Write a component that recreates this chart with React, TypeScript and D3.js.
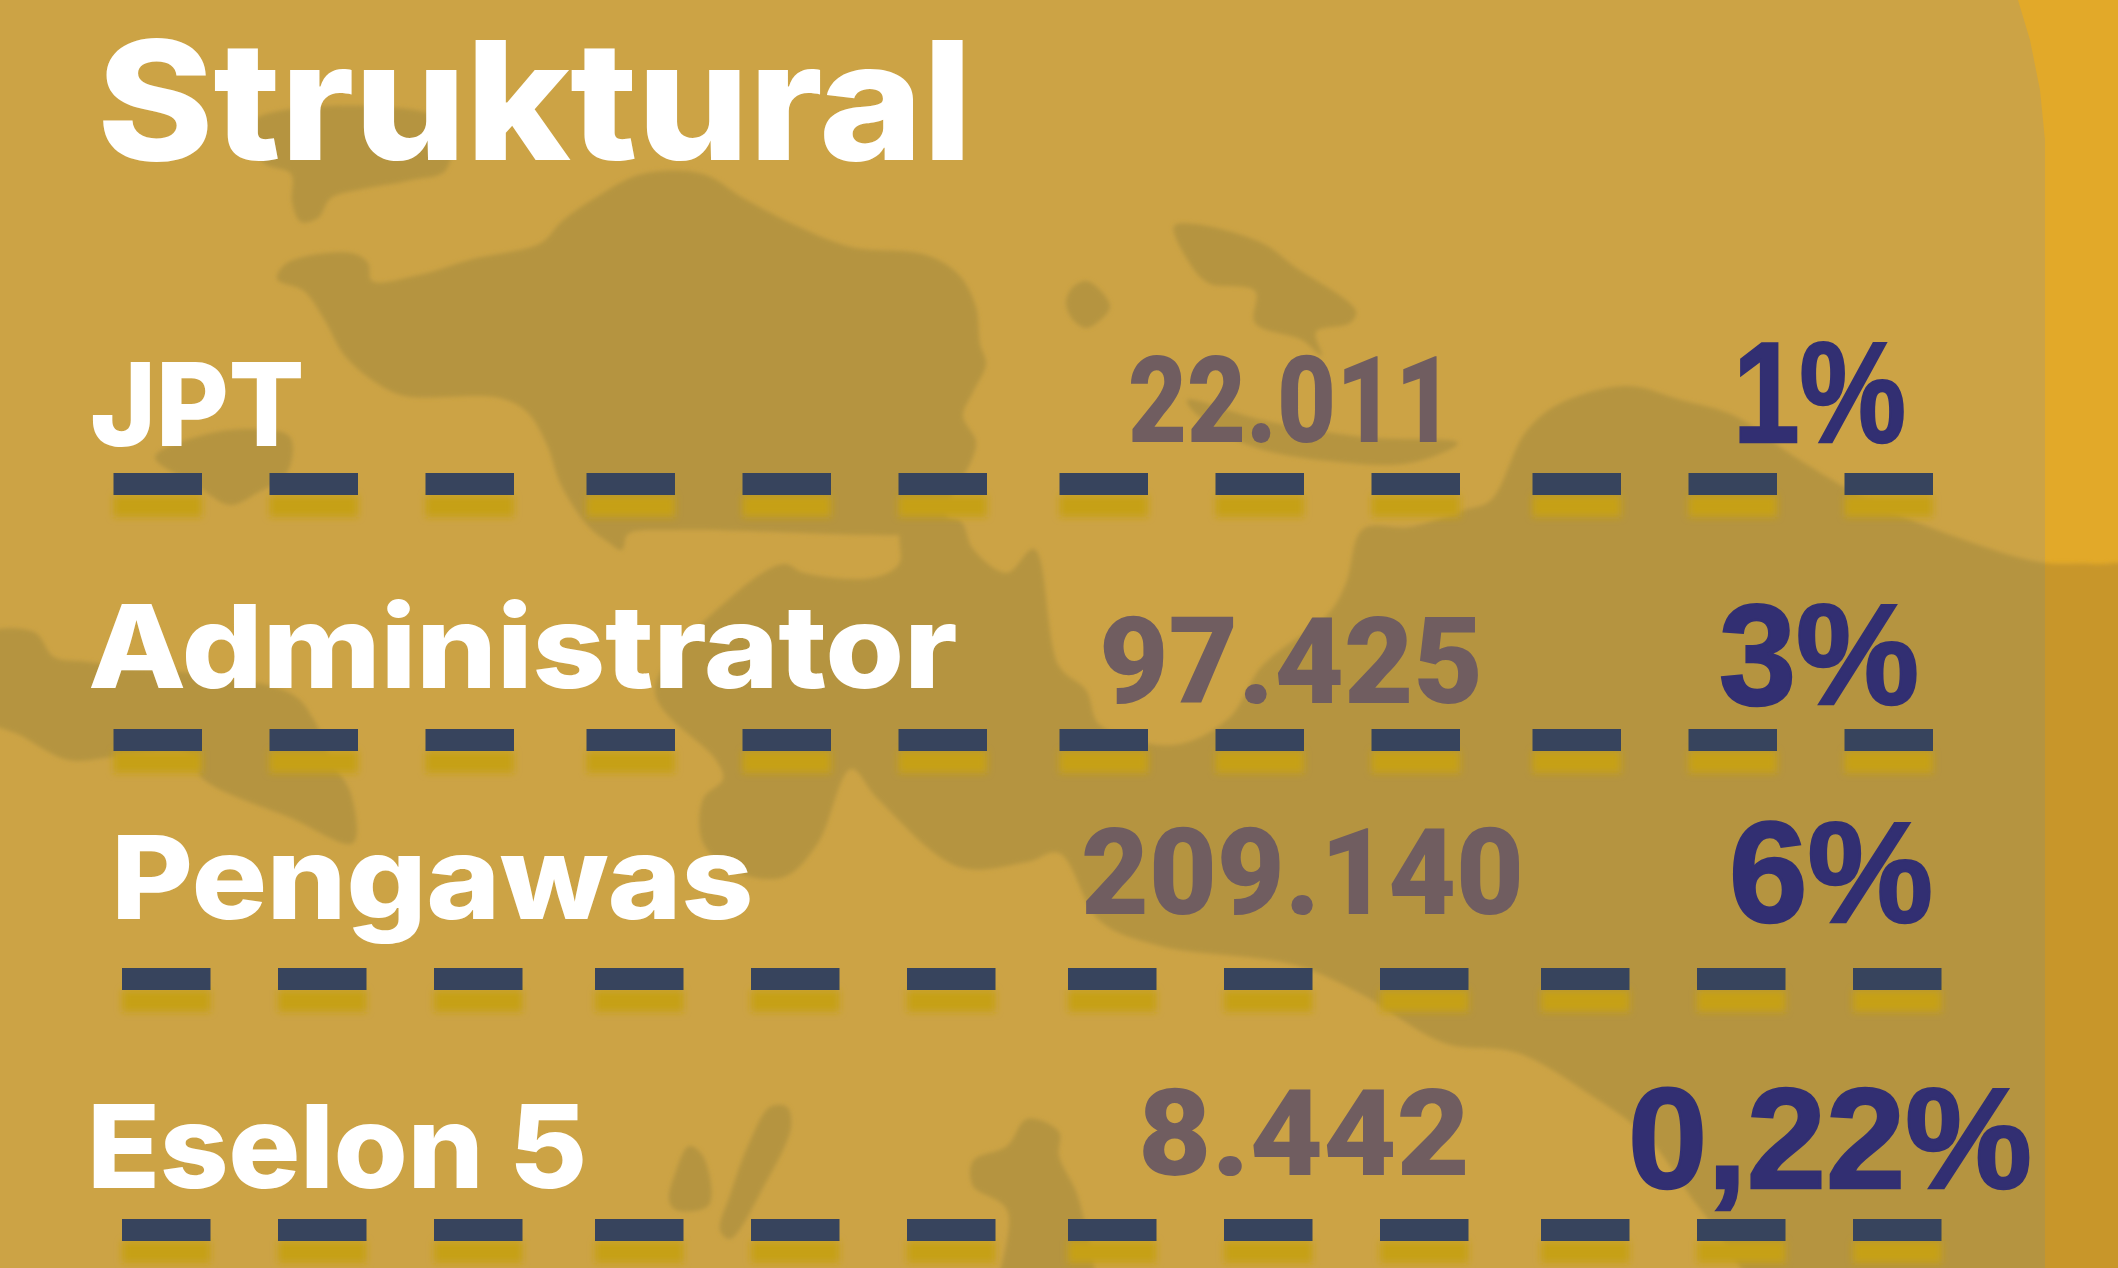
import React from 'react';
import * as d3 from 'd3';

const width = 2118;
const height = 1268;

// DATA ===========================================

const title = 'Struktural';
const categories = ['JPT', 'Administrator', 'Pengawas', 'Eselon 5'];
const counts = [22011, 97425, 209140, 8442];
const shares = [1, 3, 6, 0.22];

// Indonesian number style: 22.011 and 0,22%
const idLocale = d3.formatLocale({ decimal: ',', thousands: '.', grouping: [3], currency: ['Rp', ''] });
const formatCount = idLocale.format(',');
const formatShare = (v: number) => idLocale.format(Number.isInteger(v) ? 'd' : '.2f')(v) + '%';

// LAYOUT =========================================

const titleBox = { x: 97, width: 875, baseline: 160, size: 165 };

const labelX = [90, 88, 111, 87];
const labelWidth = [214, 869, 642, 500];
const labelBaseline = [446, 688, 919, 1188];
const labelSize = 116;

const countX = [1128, 1099, 1081, 1138];
const countWidth = [326, 384, 443, 332];
const countBaseline = [442, 703, 914, 1175];
const countSize = 120;

const shareX = [1733, 1719, 1729, 1628];
const shareWidth = [173, 200, 204, 404];
const shareBaseline = [442, 704, 922, 1188];
const shareSize = 142;

const dashY = [473, 729, 968, 1219];
const dashShift = [0, 0, 8.5, 8.5];
const dashWidth = 88.5;
const dashHeight = 22;
const shadowOffset = 22;
const dashCount = 12;

// dashes come in groups of three
const groupScale = d3.scaleLinear().domain([0, 3]).range([113.5, 1532.5]);
const stepScale = d3.scaleLinear().domain([0, 2]).range([0, 312]);
const dashX = (i: number) => groupScale(Math.floor(i / 3)) + stepScale(i % 3);

// BACKGROUND MAP =================================

type Pt = [number, number];

const panelEdge: Pt[] = [
  [-20, -20], [2014, -20], [2018, 0], [2030, 40], [2040, 90], [2045, 140],
  [2045, 1290], [-20, 1290],
];

const northIsland: Pt[] = [
  [253, 121], [446, 121], [446, 170], [412, 180], [358, 190], [331, 198],
  [318, 218], [301, 222], [292, 202], [291, 174], [263, 162],
];
const bigIsland: Pt[] = [
  [277, 279], [287, 263], [351, 253], [368, 263], [372, 281], [419, 275], [473, 259],
  [541, 243], [561, 222], [595, 198], [642, 174], [703, 174], [743, 198], [797, 226],
  [851, 247], [926, 255], [959, 275], [976, 307], [980, 344], [986, 364], [973, 392],
  [963, 416], [976, 441], [973, 457], [959, 485], [946, 513], [959, 530], [902, 535],
  [676, 530], [628, 534], [622, 550], [608, 542], [588, 526], [561, 485], [547, 445],
  [527, 412], [500, 398], [405, 396], [378, 384], [345, 356], [324, 319], [304, 291],
];
const smallIsland: Pt[] = [
  [155, 457], [203, 435], [250, 429], [290, 437], [287, 473], [257, 493], [230, 505], [196, 485],
];
const leftBand: Pt[] = [
  [-20, 637], [34, 632], [54, 657], [88, 662], [290, 693], [314, 720], [331, 760], [351, 794],
  [353, 843], [291, 818], [203, 779], [189, 755], [115, 757], [68, 760], [20, 735], [-20, 715],
];
const mainMass: Pt[] = [
  [1034, 549], [1059, 666], [1086, 690], [1100, 725], [1174, 745], [1229, 718], [1262, 666],
  [1329, 613], [1346, 583], [1363, 529], [1410, 527], [1464, 510], [1491, 500], [1525, 433],
  [1559, 404], [1627, 386], [1681, 400], [1735, 416], [1795, 457], [1870, 501], [1937, 530],
  [2039, 562], [2093, 564], [2160, 574], [2160, 1320], [1800, 1320], [1701, 1210], [1647, 1137],
  [1586, 1092], [1518, 1053], [1444, 1043], [1363, 995], [1295, 965], [1160, 946], [1100, 921],
  [1059, 853], [1027, 862], [959, 867], [878, 799], [851, 769], [818, 843], [784, 877],
  [736, 872], [703, 843], [703, 799], [723, 779], [716, 760], [655, 691], [736, 593],
  [784, 564], [804, 573], [872, 578], [899, 564], [902, 529], [959, 520], [973, 549], [1007, 573],
];
const eastIsland: Pt[] = [
  [1174, 226], [1194, 224], [1262, 243], [1295, 267], [1356, 311], [1350, 323], [1316, 332],
  [1322, 356], [1302, 340], [1255, 323], [1255, 291], [1208, 283], [1187, 259],
];
const dotIsland: Pt[] = [[1066, 303], [1072, 288], [1086, 281], [1100, 290], [1110, 307], [1098, 322], [1086, 328], [1073, 320]];
const midIsland: Pt[] = [
  [1187, 400], [1262, 420], [1363, 437], [1458, 443], [1410, 463], [1329, 461], [1248, 445], [1194, 412],
];
const southA: Pt[] = [[689, 1146], [703, 1156], [709, 1205], [676, 1210], [669, 1200], [676, 1171]];
const southB: Pt[] = [
  [770, 1107], [787, 1107], [791, 1127], [764, 1186], [730, 1239], [720, 1230], [730, 1195], [750, 1141],
];
const southC: Pt[] = [
  [1027, 1119], [1059, 1132], [1059, 1156], [1079, 1200], [1090, 1320], [1000, 1320], [1007, 1210],
  [973, 1186], [973, 1161], [1007, 1146],
];

const landShapes = [
  northIsland, bigIsland, smallIsland, leftBand, mainMass, eastIsland,
  dotIsland, midIsland, southA, southB, southC,
];

const panelShape = d3.line().curve(d3.curveLinearClosed);
const landShape = d3.line().curve(d3.curveCatmullRomClosed.alpha(0.5));

const colors = {
  strip: '#e2a929',
  stripLand: '#c8962a',
  panel: '#cca345',
  panelLand: '#b59440',
  dash: '#37445d',
  dashShadow: '#c6a012',
  label: '#ffffff',
  count: '#705d60',
  share: '#322f72',
};

const labelFont = 'Inter, "Noto Sans", sans-serif';
const countFont = 'Roboto, "Liberation Sans", sans-serif';
const shareFont = '"Liberation Sans", Arial, sans-serif';

const Land = ({ fill }: { fill: string }) => (
  <g fill={fill} filter="url(#soft)">
    {landShapes.map((pts, i) => (
      <path key={i} d={landShape(pts) as string} />
    ))}
  </g>
);

const App = () => {
  return (
    <svg
      width={width}
      height={height}
      style={{ position: 'absolute', top: 0, left: 0, display: 'block' }}
    >
      <defs>
        <filter id="soft" filterUnits="userSpaceOnUse" x={-40} y={-40} width={width + 80} height={height + 80}>
          <feGaussianBlur stdDeviation={2.2} />
        </filter>
        <filter id="shadowBlur" x="-15%" y="-60%" width="130%" height="220%">
          <feGaussianBlur stdDeviation={3.5} />
        </filter>
        <clipPath id="panelClip">
          <path d={panelShape(panelEdge) as string} />
        </clipPath>
      </defs>

      <rect width={width} height={height} fill={colors.strip} />
      <Land fill={colors.stripLand} />
      <path d={panelShape(panelEdge) as string} fill={colors.panel} />
      <g clipPath="url(#panelClip)">
        <Land fill={colors.panelLand} />
      </g>

      {dashY.map((y, r) => (
        <g key={r}>
          {d3.range(dashCount).map(i => (
            <g key={i} transform={`translate(${dashX(i) + dashShift[r]}, ${y})`}>
              <rect
                y={shadowOffset}
                width={dashWidth}
                height={dashHeight}
                fill={colors.dashShadow}
                filter="url(#shadowBlur)"
              />
              <rect width={dashWidth} height={dashHeight} fill={colors.dash} />
            </g>
          ))}
        </g>
      ))}

      <g fontFamily={labelFont} fontWeight={800} letterSpacing="-0.03em">
        <text
          x={titleBox.x}
          y={titleBox.baseline}
          fontSize={titleBox.size}
          fill={colors.label}
          textLength={titleBox.width}
          lengthAdjust="spacingAndGlyphs"
        >
          {title}
        </text>
        {categories.map((c, i) => (
          <text
            key={c}
            x={labelX[i]}
            y={labelBaseline[i]}
            fontSize={labelSize}
            fill={colors.label}
            textLength={labelWidth[i]}
            lengthAdjust="spacingAndGlyphs"
          >
            {c}
          </text>
        ))}
      </g>

      <g fontFamily={countFont} fontWeight={900}>
        {counts.map((v, i) => (
          <text
            key={v}
            x={countX[i]}
            y={countBaseline[i]}
            fontSize={countSize}
            fill={colors.count}
            textLength={countWidth[i]}
            lengthAdjust="spacingAndGlyphs"
          >
            {formatCount(v)}
          </text>
        ))}
      </g>

      <g fontFamily={shareFont} fontWeight={700}>
        {shares.map((v, i) => (
          <text
            key={v}
            x={shareX[i]}
            y={shareBaseline[i]}
            fontSize={shareSize}
            fill={colors.share}
            stroke={colors.share}
            strokeWidth={2.5}
            textLength={shareWidth[i]}
            lengthAdjust="spacingAndGlyphs"
          >
            {formatShare(v)}
          </text>
        ))}
      </g>
    </svg>
  );
};

export default App;
